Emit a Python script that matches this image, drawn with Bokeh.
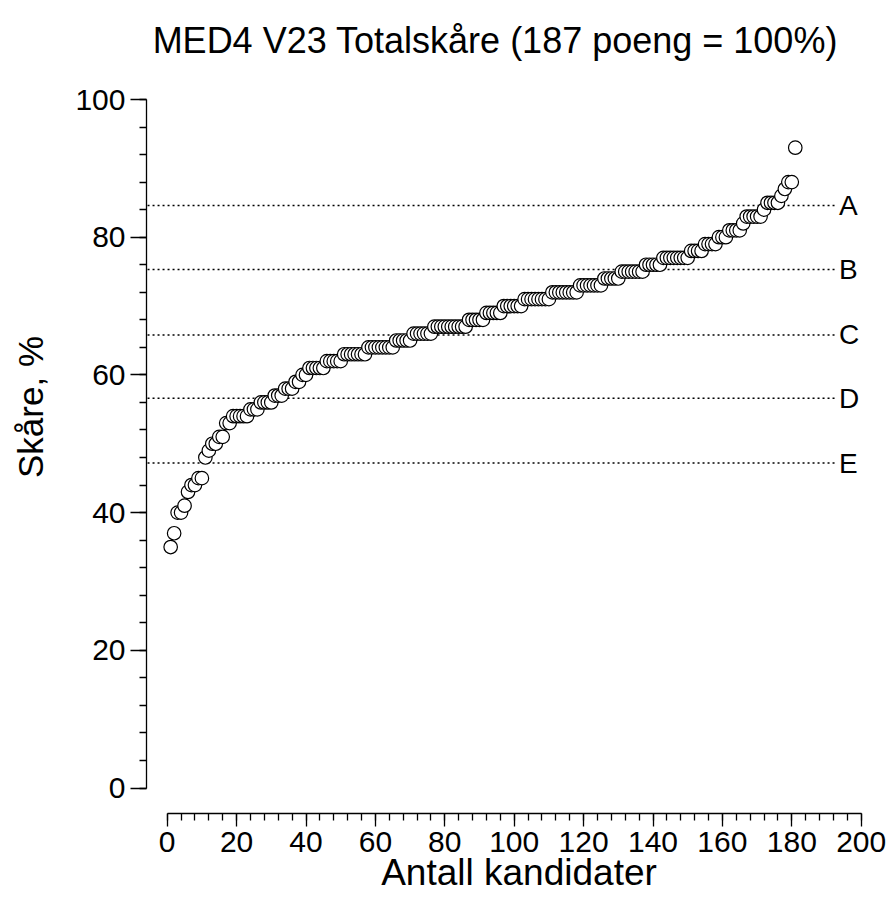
from bokeh.plotting import figure
from bokeh.models import Range1d, SingleIntervalTicker, ColumnDataSource
from bokeh.core.properties import value
from bokeh.embed import file_html
from bokeh.resources import INLINE

# ---------------- data ----------------
title_text = "MED4 V23 Totalskåre (187 poeng = 100%)"
x_label = "Antall kandidater"
y_label = "Skåre, %"

scores = [
    35, 37, 40, 40, 41, 43, 44, 44, 45, 45,
    48, 49, 50, 50, 51, 51, 53, 53, 54, 54,
    54, 54, 54, 55, 55, 55, 56, 56, 56, 56,
    57, 57, 57, 58, 58, 58, 59, 59, 60, 60,
    61, 61, 61, 61, 61, 62, 62, 62, 62, 62,
    63, 63, 63, 63, 63, 63, 63, 64, 64, 64,
    64, 64, 64, 64, 64, 65, 65, 65, 65, 65,
    66, 66, 66, 66, 66, 66, 67, 67, 67, 67,
    67, 67, 67, 67, 67, 67, 68, 68, 68, 68,
    68, 69, 69, 69, 69, 69, 70, 70, 70, 70,
    70, 70, 71, 71, 71, 71, 71, 71, 71, 71,
    72, 72, 72, 72, 72, 72, 72, 72, 73, 73,
    73, 73, 73, 73, 73, 74, 74, 74, 74, 74,
    75, 75, 75, 75, 75, 75, 75, 76, 76, 76,
    76, 76, 77, 77, 77, 77, 77, 77, 77, 77,
    78, 78, 78, 78, 79, 79, 79, 79, 80, 80,
    80, 81, 81, 81, 81, 82, 83, 83, 83, 83,
    83, 84, 85, 85, 85, 85, 86, 87, 88, 88,
    93,
]
rank = list(range(1, len(scores) + 1))

grade_letters = ["A", "B", "C", "D", "E"]
grade_limits = [84.6, 75.3, 65.8, 56.6, 47.2]

x_axis_bounds = (0, 200)
y_axis_bounds = (0, 100)
tick_step = 20

# ---------------- layout ----------------
FONT = "Liberation Sans"
W, H = 891, 907
X_PX = 3.47      # px per x unit
Y_PX = 6.885     # px per y unit
X0_PX = 166.7    # pixel of x = 0
Y0_PX = 787.5    # pixel of y = 0
LEFT, BOTTOM = 146, 94
FRAME_BOTTOM = H - BOTTOM

x0 = -(X0_PX - LEFT) / X_PX
x1 = x0 + (W - LEFT) / X_PX
y0 = -(FRAME_BOTTOM - Y0_PX) / Y_PX
y1 = y0 + FRAME_BOTTOM / Y_PX

p = figure(width=W, height=H, output_backend="svg", toolbar_location=None,
           x_range=Range1d(x0, x1), y_range=Range1d(y0, y1),
           min_border_left=LEFT, min_border_right=0,
           min_border_top=0, min_border_bottom=BOTTOM)
p.outline_line_color = None
p.xgrid.visible = False
p.ygrid.visible = False
p.background_fill_color = "white"
p.border_fill_color = "white"

for ax, bnds, major in ((p.xaxis[0], x_axis_bounds, 13), (p.yaxis[0], y_axis_bounds, 16)):
    ax.bounds = bnds
    ax.ticker = SingleIntervalTicker(interval=tick_step, num_minor_ticks=5)
    ax.axis_line_color = "black"
    ax.axis_line_width = 1.3
    ax.major_tick_line_color = "black"
    ax.major_tick_line_width = 1.3
    ax.minor_tick_line_color = "black"
    ax.minor_tick_line_width = 1.3
    ax.major_tick_out = major
    ax.major_tick_in = 0
    ax.minor_tick_out = 7
    ax.minor_tick_in = 0
    ax.major_label_text_font = FONT
    ax.major_label_text_font_size = "30px"
    ax.major_label_text_color = "black"
    ax.axis_label_text_font = FONT
    ax.axis_label_text_font_style = "normal"
    ax.axis_label_text_color = "black"

p.xaxis[0].axis_label_text_font_size = "37px"
p.yaxis[0].axis_label_text_font_size = "35px"
p.xaxis[0].major_label_standoff = 5
p.yaxis[0].major_label_standoff = 5
p.xaxis[0].axis_label = x_label
p.yaxis[0].axis_label = y_label
p.xaxis[0].axis_label_standoff = -3
p.yaxis[0].axis_label_standoff = 22

# grade lines
for lim in grade_limits:
    p.line([x0 + 0.3, 193.0], [lim, lim], line_color="black", line_width=1.4,
           line_dash="2 3")
p.text(x=[193.6] * len(grade_letters), y=grade_limits, text=grade_letters,
       text_font=value(FONT), text_font_size="28px", text_align="left",
       text_baseline="middle", text_color="black")

# data points
src = ColumnDataSource(dict(x=rank, y=scores))
p.scatter("x", "y", source=src, size=13.5, marker="circle",
          fill_color="white", line_color="black", line_width=1.2)

# title
p.text(x=[-4.2], y=[108.6], text=[title_text], text_font=value(FONT),
       text_font_size="36px", text_align="left", text_baseline="middle",
       text_color="black")

open("out.html", "w").write(file_html(p, INLINE))
